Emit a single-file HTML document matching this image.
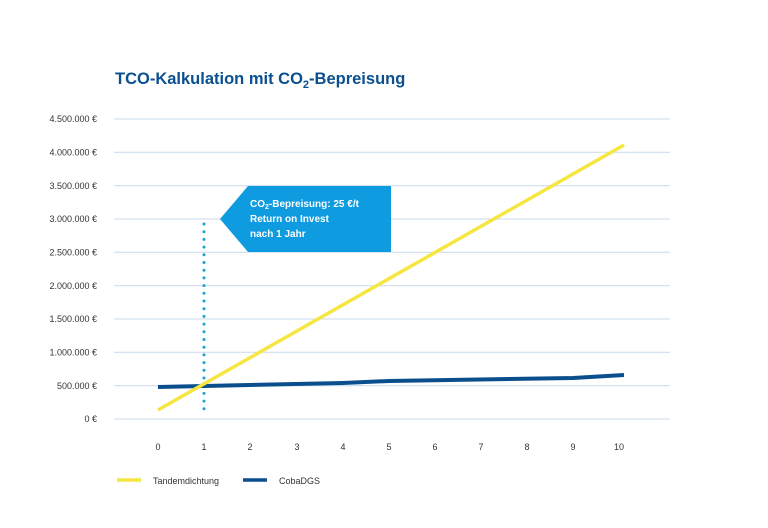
<!DOCTYPE html>
<html><head><meta charset="utf-8"><style>
body{margin:0;background:#fff;}
svg text{font-family:"Liberation Sans",sans-serif;}
</style></head><body>
<svg width="768" height="523" viewBox="0 0 768 523" xmlns="http://www.w3.org/2000/svg">
<rect width="768" height="523" fill="#fff"/>
<text x="115" y="84" font-size="16.5" font-weight="bold" fill="#0a4f8f">TCO-Kalkulation mit CO<tspan font-size="11" dy="4">2</tspan><tspan dy="-4">-Bepreisung</tspan></text>
<g stroke="#c9d9e8" stroke-width="1">
<line x1="114" x2="670" y1="119" y2="119"/><line x1="114" x2="670" y1="152.3" y2="152.3"/>
<line x1="114" x2="670" y1="185.7" y2="185.7"/><line x1="114" x2="670" y1="219" y2="219"/>
<line x1="114" x2="670" y1="252.3" y2="252.3"/><line x1="114" x2="670" y1="285.7" y2="285.7"/>
<line x1="114" x2="670" y1="319" y2="319"/><line x1="114" x2="670" y1="352.3" y2="352.3"/>
<line x1="114" x2="670" y1="385.7" y2="385.7"/><line x1="114" x2="670" y1="419" y2="419"/>
</g>
<g font-size="9" fill="#333" text-anchor="end">
<text x="97" y="122">4.500.000 €</text><text x="97" y="155.5">4.000.000 €</text>
<text x="97" y="189">3.500.000 €</text><text x="97" y="222">3.000.000 €</text>
<text x="97" y="255.5">2.500.000 €</text><text x="97" y="289">2.000.000 €</text>
<text x="97" y="322">1.500.000 €</text><text x="97" y="355.5">1.000.000 €</text>
<text x="97" y="389">500.000 €</text><text x="97" y="422">0 €</text>
</g>
<g font-size="9" fill="#333" text-anchor="middle">
<text x="158" y="450">0</text><text x="204" y="450">1</text><text x="250" y="450">2</text>
<text x="297" y="450">3</text><text x="343" y="450">4</text><text x="389" y="450">5</text>
<text x="435" y="450">6</text><text x="481" y="450">7</text><text x="527" y="450">8</text>
<text x="573" y="450">9</text><text x="619" y="450">10</text>
</g>
<line x1="204" y1="224" x2="204" y2="410" stroke="#1a9ee0" stroke-width="3" stroke-linecap="round" stroke-dasharray="0 7.7"/>
<polyline points="158,387 204,386 343,383 389,381 573,378 624,375" fill="none" stroke="#0b4e8e" stroke-width="4"/>
<line x1="158" y1="410" x2="624" y2="145" stroke="#f5e642" stroke-width="3.5"/>
<polygon points="248,186 391,186 391,252 248,252 220,219" fill="#0e9be0"/>
<g font-size="10" font-weight="bold" fill="#fff">
<text x="250" y="207">CO<tspan font-size="7" dy="2">2</tspan><tspan dy="-2">-Bepreisung: 25 €/t</tspan></text>
<text x="250" y="222">Return on Invest</text>
<text x="250" y="237">nach 1 Jahr</text>
</g>
<line x1="117" y1="480" x2="141" y2="480" stroke="#f5e642" stroke-width="3.5"/>
<text x="153" y="484" font-size="9" fill="#333">Tandemdichtung</text>
<line x1="243" y1="480" x2="267" y2="480" stroke="#0b4e8e" stroke-width="3.5"/>
<text x="279" y="484" font-size="9" fill="#333">CobaDGS</text>
</svg>
</body></html>
